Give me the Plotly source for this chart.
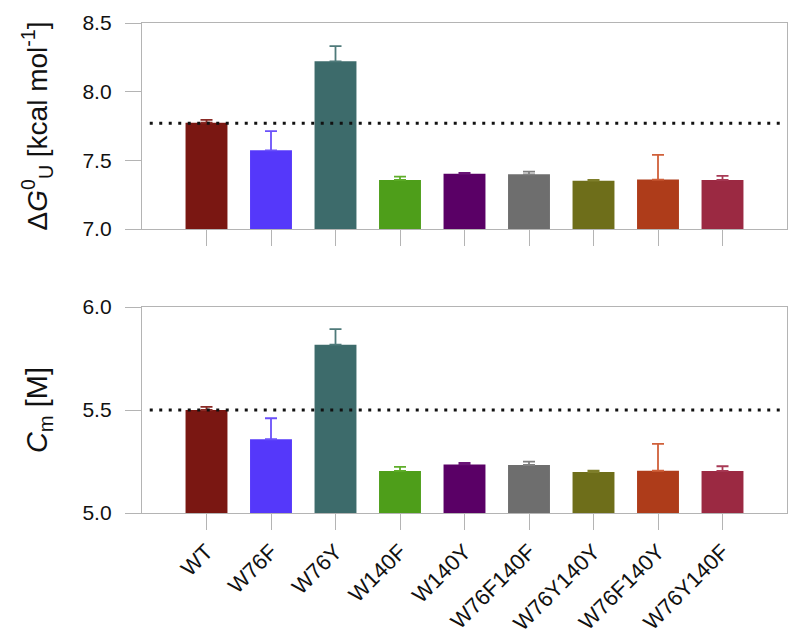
import plotly.graph_objects as go
from plotly.subplots import make_subplots

categories = ["WT", "W76F", "W76Y", "W140F", "W140Y", "W76F140F", "W76Y140Y", "W76F140Y", "W76Y140F"]
dG_values = [7.774, 7.573, 8.221, 7.357, 7.403, 7.398, 7.352, 7.360, 7.357]
dG_errors = [0.020, 0.140, 0.110, 0.024, 0.006, 0.020, 0.006, 0.180, 0.030]
cm_values = [5.500, 5.358, 5.817, 5.204, 5.236, 5.233, 5.199, 5.205, 5.204]
cm_errors = [0.015, 0.102, 0.076, 0.020, 0.007, 0.016, 0.006, 0.131, 0.023]
dG_ref = 7.77
cm_ref = 5.50
bar_colors = ["#7a1712", "#5538fa", "#3d6b6b", "#4e9e1a", "#5a0066",
              "#6e6e6e", "#6e6e1a", "#ae3c1a", "#9b2942"]
err_colors = ["#8a2a25", "#6a50fa", "#4f7a7a", "#5fae2a", "#6a1476",
              "#808080", "#7e7e2a", "#d0603a", "#a83a55"]

x_idx = list(range(len(categories)))

fig = make_subplots(rows=2, cols=1, shared_xaxes=False, vertical_spacing=0.159)

for row, vals, errs in [(1, dG_values, dG_errors), (2, cm_values, cm_errors)]:
    for i in x_idx:
        fig.add_trace(go.Bar(
            x=[i], y=[vals[i]], width=0.65,
            marker=dict(color=bar_colors[i], line=dict(width=0)),
            error_y=dict(type="data", array=[errs[i]], arrayminus=[0], symmetric=False,
                         color=err_colors[i], thickness=1.8, width=6),
            showlegend=False,
        ), row=row, col=1)

axis_grey = "#b4b4b4"
font_family = "Liberation Sans, Arial, sans-serif"

common_x = dict(range=[-1.0, 9.0], tickmode="array", tickvals=x_idx,
                ticks="outside", ticklen=16, tickcolor=axis_grey, tickwidth=1.3,
                showline=True, linecolor=axis_grey, linewidth=1.3, mirror=True,
                showgrid=False, zeroline=False, automargin=False)
common_y = dict(ticks="outside", ticklen=16, tickcolor=axis_grey, tickwidth=1.3,
                showline=True, linecolor=axis_grey, linewidth=1.3, mirror=True,
                showgrid=False, zeroline=False, tickformat=".1f", automargin=False,
                tickfont=dict(size=21, color="#111"), ticklabelstandoff=9)

fig.update_xaxes(**common_x, showticklabels=False, row=1, col=1)
fig.update_xaxes(**common_x, showticklabels=True, ticktext=categories, tickangle=-45,
                 tickfont=dict(size=22, color="#111"), row=2, col=1)
fig.update_yaxes(**common_y, range=[7.0, 8.5], tickvals=[7.0, 7.5, 8.0, 8.5],
                 title=dict(text="\u0394<i>G</i><sup>0</sup><sub>U</sub> [kcal mol<sup>-1</sup>]",
                            font=dict(size=28, color="#111"), standoff=26),
                 row=1, col=1)
fig.update_yaxes(**common_y, range=[5.0, 6.0], tickvals=[5.0, 5.5, 6.0],
                 title=dict(text="<i>C</i><sub>m</sub> [M]",
                            font=dict(size=29, color="#111"), standoff=26),
                 row=2, col=1)

fig.update_layout(
    xaxis=dict(domain=[0, 1]), yaxis=dict(domain=[0.5796, 1.0]),
    xaxis2=dict(domain=[0, 1]), yaxis2=dict(domain=[0.0, 0.4204]),
)

for yref, ref in [("y", dG_ref), ("y2", cm_ref)]:
    xr = "x domain" if yref == "y" else "x2 domain"
    fig.add_shape(type="line", xref=xr, yref=yref, x0=0.012, x1=0.99, y0=ref, y1=ref,
                  line=dict(color="#111", width=3, dash="3px,6.5px"), layer="above")

fig.update_layout(
    width=792, height=634,
    margin=dict(l=134, r=13, t=15, b=129),
    paper_bgcolor="white", plot_bgcolor="white",
    font=dict(family=font_family, color="#111"),
    bargap=0.2,
)

fig.write_html("out.html")
